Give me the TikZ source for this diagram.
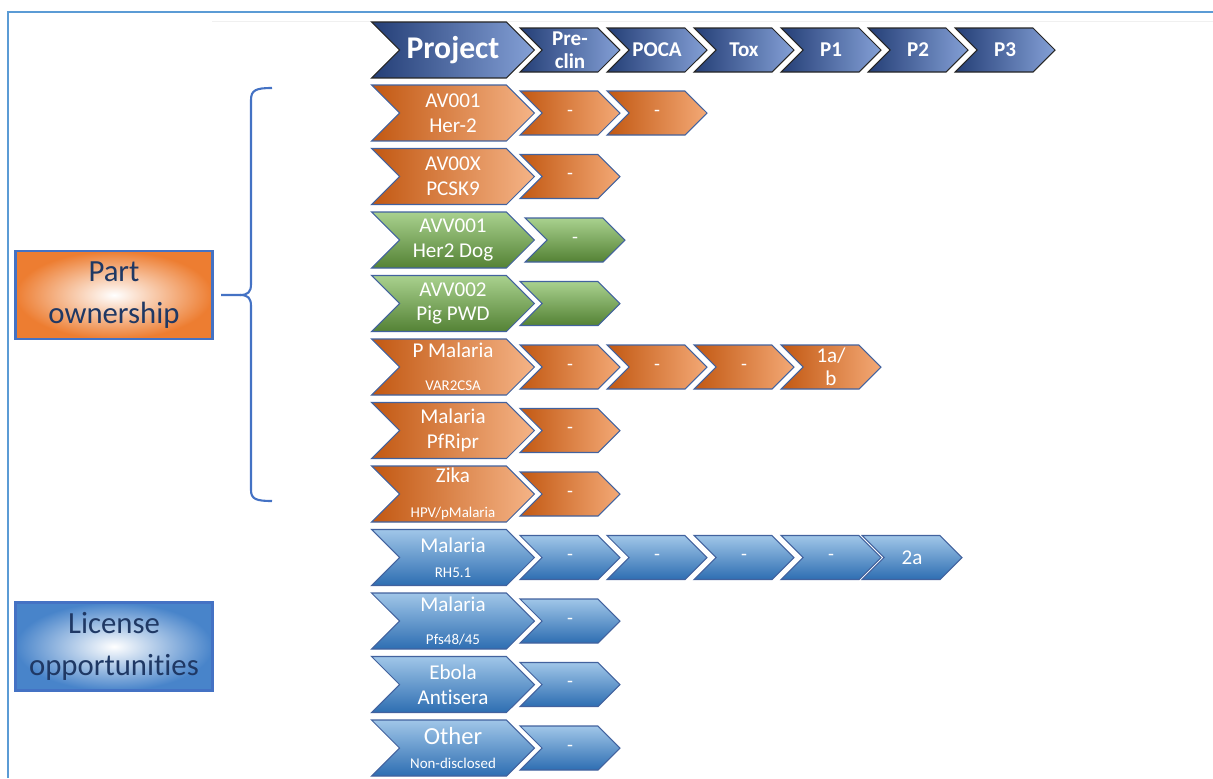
\documentclass[tikz,border=0pt]{standalone}
\usepackage{fontspec}
\setmainfont{Carlito}[Ligatures=NoCommon]
\usetikzlibrary{shapes.symbols}

\definecolor{hdrdark}{RGB}{36,62,118}
\definecolor{hdrmid}{RGB}{58,92,166}
\definecolor{hdrlight}{RGB}{132,160,214}
\definecolor{orgdark}{RGB}{194,88,18}
\definecolor{orgmid}{RGB}{237,125,49}
\definecolor{orglight}{RGB}{245,180,135}
\definecolor{grnlight}{RGB}{169,209,142}
\definecolor{grndark}{RGB}{84,130,53}
\definecolor{blulight}{RGB}{160,198,232}
\definecolor{bludark}{RGB}{46,110,178}
\definecolor{rowedge}{RGB}{66,98,158}
\definecolor{frameblue}{RGB}{91,155,213}
\definecolor{bracecol}{RGB}{68,114,196}
\definecolor{navytext}{RGB}{31,56,100}
\definecolor{licblue}{RGB}{72,132,202}

\tikzset{
	chev/.style={signal, signal from=west, signal to=east, text=white, align=center, inner sep=0pt, line width=0.6pt},
	mainchev/.style={chev, minimum width=3.26cm, minimum height=1.12cm, font=\fontsize{12}{14}\selectfont},
	stagechev/.style={chev, minimum width=2cm, minimum height=0.88cm, font=\fontsize{11}{13}\selectfont},
	hdr/.style={draw=black!85, left color=hdrdark, middle color=hdrmid, right color=hdrlight, font=\bfseries\fontsize{12}{13}\selectfont},
	orng/.style={draw=rowedge, left color=orgdark, right color=orglight},
	orngstage/.style={draw=rowedge, left color=orgdark, middle color=orgmid, right color=orglight!80!orgmid},
	grn/.style={draw=rowedge, top color=grnlight, bottom color=grndark},
	blu/.style={draw=rowedge, top color=blulight, bottom color=bludark},
	groupbox/.style={draw=bracecol, line width=1.4pt, minimum width=3.94cm, minimum height=1.76cm, align=center, text=navytext, font=\fontsize{17.5}{24}\selectfont}
}

\newcommand{\minorline}[1]{{\fontsize{8.5}{10}\selectfont #1}}

\begin{document}
\begin{tikzpicture}[x=0.02cm, y=-0.02cm]
	\useasboundingbox (0,0) rectangle (1213,778);
	\draw[frameblue, line width=1.7pt] (8,778) -- (8,12) -- (1213,12);
	\draw[black!6] (212,21) -- (1213,21);

	\node[mainchev, hdr, font=\bfseries\fontsize{18}{20}\selectfont] (PRJ)at(453, 50) {Project};
	\node[stagechev, hdr] (PRE)at(570, 50) {Pre-\\clin};
	\node[stagechev, hdr] (POCA)at(657, 50) {POCA};
	\node[stagechev, hdr] (TOX)at(744, 50) {Tox};
	\node[stagechev, hdr] (PH1)at(831, 50) {P1};
	\node[stagechev, hdr] (PH2)at(918, 50) {P2};
	\node[stagechev, hdr] (PH3)at(1005, 50) {P3};

	\node[mainchev, orng] (AV1)at(453, 113) {AV001\\Her-2};
	\node[stagechev, orngstage] (AV1a)at(570, 113) {-};
	\node[stagechev, orngstage] (AV1b)at(657, 113) {-};

	\node[mainchev, orng] (AVX)at(453, 176.5) {AV00X\\PCSK9};
	\node[stagechev, orngstage] (AVXa)at(570, 176.5) {-};

	\node[mainchev, grn] (AVV1)at(453, 240) {AVV001\\Her2 Dog};
	\node[stagechev, grn] (AVV1a)at(575, 240) {-};

	\node[mainchev, grn] (AVV2)at(453, 303.5) {AVV002\\Pig PWD};
	\node[stagechev, grn] (AVV2a)at(570, 303.5) {};

	\node[mainchev, orng] (PMAL)at(453, 367) {P Malaria\\[5pt]\minorline{VAR2CSA}};
	\node[stagechev, orngstage] (PMALa)at(570, 367) {-};
	\node[stagechev, orngstage] (PMALb)at(657, 367) {-};
	\node[stagechev, orngstage] (PMALc)at(744, 367) {-};
	\node[stagechev, orngstage, font=\fontsize{12}{13}\selectfont] (PMALd)at(831, 367) {1a/\\b};

	\node[mainchev, orng] (PFR)at(453, 430.5) {Malaria\\PfRipr};
	\node[stagechev, orngstage] (PFRa)at(570, 430.5) {-};

	\node[mainchev, orng] (ZIK)at(453, 494) {Zika\\[6pt]\minorline{HPV/pMalaria}};
	\node[stagechev, orngstage] (ZIKa)at(570, 494) {-};

	\node[mainchev, blu] (RH5)at(453, 557.5) {Malaria\\\minorline{RH5.1}};
	\node[stagechev, blu] (RH5a)at(570, 557.5) {-};
	\node[stagechev, blu] (RH5b)at(657, 557.5) {-};
	\node[stagechev, blu] (RH5c)at(744, 557.5) {-};
	\node[stagechev, blu] (RH5d)at(831, 557.5) {-};
	\node[stagechev, blu, font=\fontsize{12}{13}\selectfont] (RH5e)at(912, 557.5) {2a};

	\node[mainchev, blu] (PFS)at(453, 621) {Malaria\\[5pt]\minorline{Pfs48/45}};
	\node[stagechev, blu] (PFSa)at(570, 621) {-};

	\node[mainchev, blu] (EBO)at(453, 684.5) {Ebola\\Antisera};
	\node[stagechev, blu] (EBOa)at(570, 684.5) {-};

	\node[mainchev, blu] (OTH)at(453, 748) {{\fontsize{14}{14}\selectfont Other}\\\minorline{Non-disclosed}};
	\node[stagechev, blu] (OTHa)at(570, 748) {-};

	\node[groupbox, inner color=white, outer color=orgmid] (PART)at(114, 295) {Part\\ownership};
	\node[groupbox, inner color=white, outer color=licblue] (LIC)at(114, 646.5) {License\\opportunities};

	\draw[bracecol, line width=1.2pt] (272,88) .. controls (256,88) and (251,90) .. (251,100) -- (251,284) .. controls (251,292) and (248,295) .. (240,295) -- (221,295);
	\draw[bracecol, line width=1.2pt] (240,295) .. controls (248,295) and (251,298) .. (251,306) -- (251,490) .. controls (251,499) and (256,501) .. (272,501);
\end{tikzpicture}
\end{document}
